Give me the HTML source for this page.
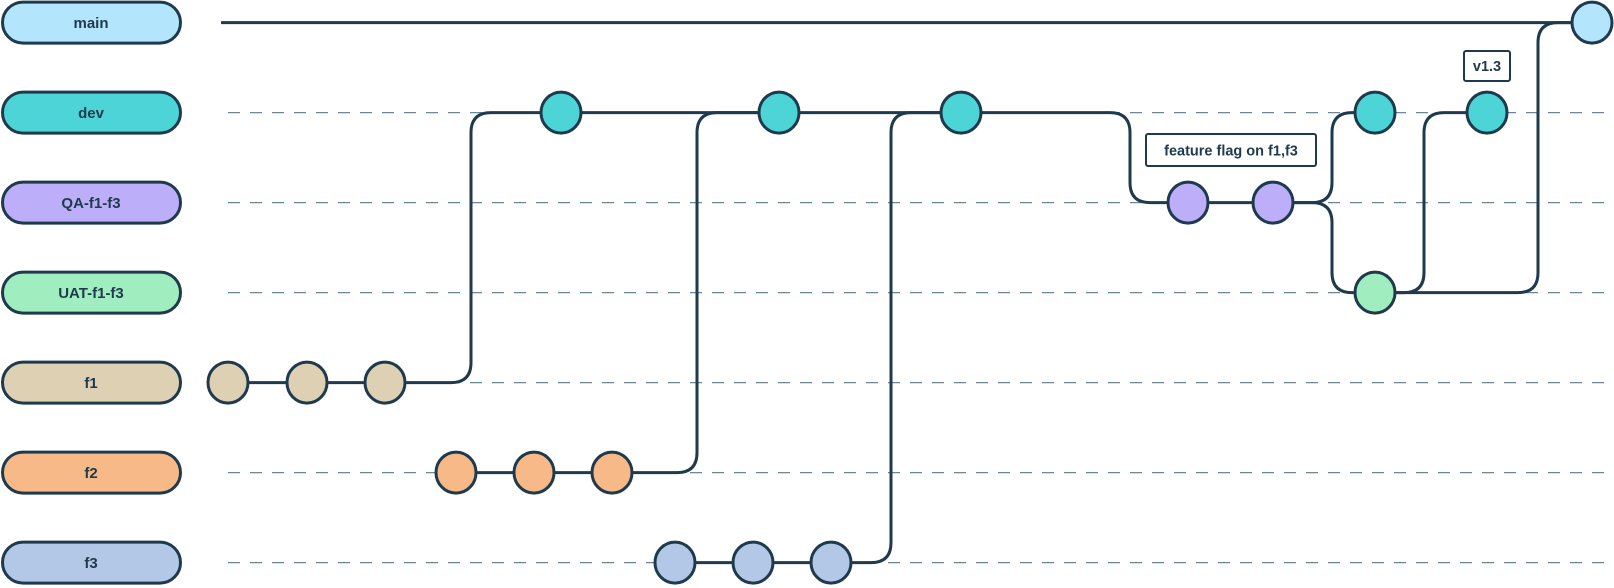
<!DOCTYPE html>
<html><head><meta charset="utf-8">
<style>
html,body{margin:0;padding:0;background:#fff;}
svg{display:block;}
text{font-family:"Liberation Sans",sans-serif;font-weight:bold;fill:#1e3a4c;}
</style></head>
<body>
<svg id="g" width="1614" height="588" viewBox="0 0 1614 588"></svg>
<script>
const branchNames = ["main","dev","QA-f1-f3","UAT-f1-f3","f1","f2","f3"];
const branchColors = ["#b3e5fc","#4dd4d6","#bcaef9","#a0eebf","#ddd0b3","#f7b987","#b3c8e6"];
// commits: branch index and horizontal time position
const commitBranch = [4,4,4,5,5,5,6,6,6,1,1,1,2,2,1,3,1,0];
const commitTime   = [0,79,157,228,306,384,447,525,603,333,551,733,960,1045,1147,1147,1259,1364];
// edges: [from commit, to commit, bend time]
const edges = [[0,1,null],[1,2,null],[3,4,null],[4,5,null],[6,7,null],[7,8,null],
  [2,9,243],[5,10,469],[8,11,663],[9,10,null],[10,11,null],[11,12,902],[12,13,null],
  [13,14,1104],[13,15,1104],[15,16,1196],[15,17,1310]];
const tags = [[12,"feature flag on f1,f3",1.5],[16,"v1.3",1]];
const stroke="#1e3a4c";
const X = t => 228 + t;
const Y = b => 22.6 + b*90;
const svg=document.getElementById('g');
const NS="http://www.w3.org/2000/svg";
function mk(tag,attrs,parent){const e=document.createElementNS(NS,tag);for(const k in attrs)e.setAttribute(k,attrs[k]);(parent||svg).appendChild(e);return e;}
// lanes
branchNames.forEach((n,i)=>{
  if(i===0){
    const l=mk('line',{x1:221,y1:Y(0),x2:X(commitTime[17]),y2:Y(0),stroke:stroke,'stroke-width':3});
    
    
  } else {
    const l=mk('line',{x1:228,y1:Y(i),x2:1605,y2:Y(i),stroke:'#6a8797','stroke-width':1.2,'stroke-dasharray':'12 10'});
    
    
  }
  const g=mk('g',{});
  
  
  mk('rect',{x:2.5,y:Y(i)-20.5,width:178,height:41,rx:20.5,fill:branchColors[i],stroke:stroke,'stroke-width':3},g);
  const t=mk('text',{x:91,y:Y(i)+5.5,'text-anchor':'middle','font-size':15},g);
  t.textContent=n;
});
// edges
const R=20;
edges.forEach((e,k)=>{
  const [a,b,bend]=e;
  const x1=X(commitTime[a]),y1=Y(commitBranch[a]),x2=X(commitTime[b]),y2=Y(commitBranch[b]);
  let d;
  if(bend===null){d=`M${x1},${y1}L${x2},${y2}`;}
  else{
    const bx=X(bend);const s=y2<y1?-1:1;
    d=`M${x1},${y1}L${bx-R},${y1}Q${bx},${y1} ${bx},${y1+s*R}L${bx},${y2-s*R}Q${bx},${y2} ${bx+R},${y2}L${x2},${y2}`;
  }
  const p=mk('path',{d:d,fill:'none',stroke:stroke,'stroke-width':3});
  
  
});
// commits
commitTime.forEach((t,i)=>{
  const c=mk('ellipse',{cx:X(t),cy:Y(commitBranch[i]),rx:20,ry:20.5,fill:branchColors[commitBranch[i]],stroke:stroke,'stroke-width':3});
  
  
});
// tags
tags.forEach((tg,k)=>{
  const [ci,label]=tg;
  const cx=X(commitTime[ci]);
  const g=mk('g',{});
  
  
  if(k===0){
    mk('rect',{x:1146,y:134,width:170,height:32,fill:'#fff',stroke:stroke,'stroke-width':2,rx:2},g);
    const t=mk('text',{x:1231,y:155.5,'text-anchor':'middle','font-size':14.5},g);t.textContent=label;
  } else {
    mk('rect',{x:cx-23,y:51,width:46,height:30,fill:'#fff',stroke:stroke,'stroke-width':2,rx:2},g);
    const t=mk('text',{x:cx,y:71,'text-anchor':'middle','font-size':14.5},g);t.textContent=label;
  }
});
</script>
</body></html>
